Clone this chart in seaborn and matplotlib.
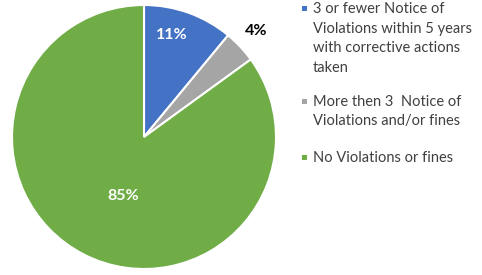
import numpy as np
import seaborn as sns
import matplotlib.pyplot as plt
from matplotlib.patches import Rectangle

labels = ['3 or fewer Notice of\nViolations within 5 years\nwith corrective actions\ntaken',
          'More then 3  Notice of\nViolations and/or fines',
          'No Violations or fines']
shares = [11, 4, 85]
pct_text = ['11%', '4%', '85%']
colors = ['#4472C4', '#A5A5A5', '#70AD47']

sns.set_style('white')
plt.rcParams['font.family'] = ['Lato', 'DejaVu Sans']

W, H = 482, 275
fig = plt.figure(figsize=(W / 100, H / 100), dpi=100)
ax = fig.add_axes([12 / W, 6 / H, 264 / W, 264 / H])
wedges, _ = ax.pie(shares, colors=colors, startangle=90, counterclock=False,
                   wedgeprops=dict(edgecolor='white', linewidth=1.5))
ax.set_xlim(-1, 1)
ax.set_ylim(-1, 1)
ax.set_aspect('equal')

# label spots (in pie-radius units)
spots = [(0.21, 0.77), (0.85, 0.80), (-0.16, -0.45)]
tcolors = ['white', 'black', 'white']
for t, (x, y), c in zip(pct_text, spots, tcolors):
    ax.text(x, y, t, ha='center', va='center', color=c, fontsize=11.5, fontweight='bold')

# legend, drawn by hand so the marker sits on the first line
first_line = [13, 106, 162]  # baseline of first line, px from top
step = 19.5
for lab, c, yb in zip(labels, colors, first_line):
    for i, line in enumerate(lab.split('\n')):
        fig.text(313 / W, 1 - (yb + i * step) / H, line, ha='left', va='baseline',
                 fontsize=10.5, color='#404040')
    fig.add_artist(Rectangle((302 / W, 1 - (yb - 2) / H), 5 / W, 5 / H,
                             transform=fig.transFigure, facecolor=c, edgecolor='none'))

fig.savefig('out.png', dpi=100)
